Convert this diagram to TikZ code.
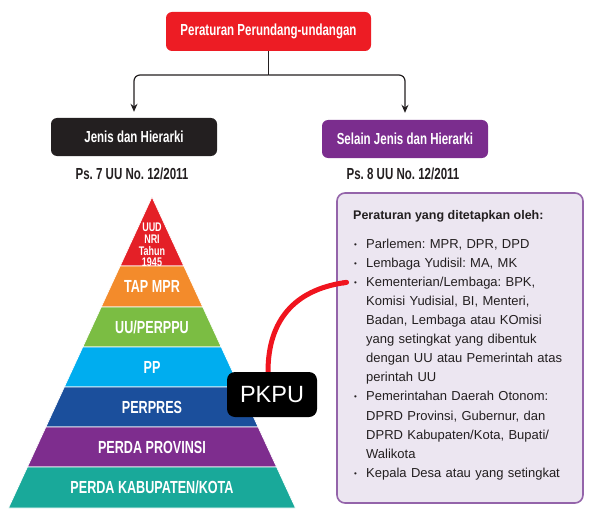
\documentclass[tikz,border=0pt]{standalone}
\usepackage{fontspec}
\setmainfont{Liberation Sans}
\newfontfamily\narrowsf[FakeStretch=0.72]{Liberation Sans}
\usetikzlibrary{arrows.meta}
\frenchspacing

\definecolor{topred}{HTML}{ED1C24}
\definecolor{inkblack}{HTML}{231F20}
\definecolor{boxpurple}{HTML}{7B2D8E}
\definecolor{panelfill}{HTML}{ECE6F1}
\definecolor{paneledge}{HTML}{9464AA}
\definecolor{pyred}{HTML}{E42027}
\definecolor{pyorange}{HTML}{F38B2B}
\definecolor{pygreen}{HTML}{7BBD43}
\definecolor{pyblue}{HTML}{00ADEF}
\definecolor{pynavy}{HTML}{1B4F9C}
\definecolor{pypurple}{HTML}{7E2D8E}
\definecolor{pyteal}{HTML}{19A99A}
\definecolor{markred}{HTML}{F0141E}

\newcommand\bulletmark{\makebox[12pt][l]{\raisebox{1pt}{\fontsize{8}{8}\selectfont\textbullet}}}
\newcommand\indentmark{\hspace*{12pt}}

\tikzset{
  headbox/.style={rectangle,rounded corners=6pt,text=white,inner sep=0pt,
    font=\narrowsf\bfseries\fontsize{16}{18}\selectfont,
    minimum width=166pt,minimum height=38pt},
  pslabel/.style={anchor=base,inner sep=0pt,text=inkblack,
    font=\narrowsf\bfseries\fontsize{16}{18}\selectfont},
  level/.style={text=white,inner sep=0pt,text depth=0pt,
    font=\narrowsf\bfseries\fontsize{17.5}{19}\selectfont},
  band/.style={draw=white,line width=0.7pt},
  conn/.style={draw=inkblack,line width=1.2pt,rounded corners=6pt},
}

\begin{document}
\begin{tikzpicture}[x=1pt,y=-1pt]
\useasboundingbox (0,0) rectangle (594,516);

% top of the tree
\node [headbox,fill=topred,minimum width=205pt,minimum height=39pt] (top) at (268.5,31.5) {Peraturan Perundang-undangan};
\node [headbox,fill=inkblack] (jenis) at (134,137) {Jenis dan Hierarki};
\node [headbox,fill=boxpurple] (selain) at (405,139) {Selain Jenis dan Hierarki};
\node [pslabel] (ps7) at (132,179) {Ps. 7 UU No. 12/2011};
\node [pslabel] (ps8) at (403,179) {Ps. 8 UU No. 12/2011};

\coordinate (fork) at (268.5,75);
\draw [conn] (top.south) -- (fork);
\draw [conn,-{Stealth[length=8pt,width=7pt]},shorten >=6pt] (fork) -| (jenis.north);
\draw [conn,-{Stealth[length=8pt,width=7pt]},shorten >=7pt] (fork) -| (selain.north);

% pyramid
\fill [pyred,band] (152,197) -- (183.8,266) -- (120.2,266) -- cycle;
\node [text=white,align=center,inner sep=0pt,
  font=\narrowsf\bfseries\fontsize{12.5}{11.8}\selectfont] (uud) at (152,245) {UUD\\NRI\\Tahun\\1945};
\foreach \ya/\yb/\col/\nm/\txt in {266/307/pyorange/tap/{TAP MPR},
  307/347/pygreen/uu/{UU/PERPPU}, 347/387/pyblue/pp/{PP},
  387/427/pynavy/perpres/{PERPRES}, 427/467/pypurple/prov/{PERDA PROVINSI},
  467/508/pyteal/kab/{PERDA KABUPATEN/KOTA}}{
  \pgfmathsetmacro\wa{(\ya-197)*0.4614}
  \pgfmathsetmacro\wb{(\yb-197)*0.4614}
  \fill [\col,band] (152-\wa,\ya) -- (152+\wa,\ya) -- (152+\wb,\yb) -- (152-\wb,\yb) -- cycle;
  \node [level] (\nm) at (152,{(\ya+\yb)/2}) {\txt};
}

% list of the other rules
\node [draw=paneledge,fill=panelfill,line width=1.6pt,rounded corners=8pt,
  minimum width=246pt,minimum height=310pt,inner sep=0pt] (panel) at (460,348) {};
\node [anchor=base west,inner sep=0pt,text=inkblack,
  font=\bfseries\fontsize{12.5}{15}\selectfont] (head) at (353,219) {Peraturan yang ditetapkan oleh:};
\node [anchor=north west,inner sep=0pt,text=inkblack,text width=225pt,align=left,
  font=\fontsize{13}{19.1}\selectfont] (items) at (354,238.5) {%
  \bulletmark Parlemen: MPR, DPR, DPD\\
  \bulletmark Lembaga Yudisil: MA, MK\\
  \bulletmark Kementerian/Lembaga: BPK,\\
  \indentmark Komisi Yudisial, BI, Menteri,\\
  \indentmark Badan, Lembaga atau KOmisi\\
  \indentmark yang setingkat yang dibentuk\\
  \indentmark dengan UU atau Pemerintah atas\\
  \indentmark perintah UU\\
  \bulletmark Pemerintahan Daerah Otonom:\\
  \indentmark DPRD Provinsi, Gubernur, dan\\
  \indentmark DPRD Kabupaten/Kota, Bupati/\\
  \indentmark Walikota\\
  \bulletmark Kepala Desa atau yang setingkat};

% PKPU mark
\node [fill=black,text=white,rounded corners=8pt,inner sep=0pt,
  minimum width=90pt,minimum height=45pt,
  font=\fontsize{23.5}{26}\selectfont] (pkpu) at (272,394.5) {PKPU};
\coordinate (kem) at (349,282);
\draw [markred,line width=5pt,-{Round Cap}] ([xshift=-4pt]pkpu.north) .. controls +(0,-52) and (295,290) .. (kem);

\end{tikzpicture}
\end{document}
